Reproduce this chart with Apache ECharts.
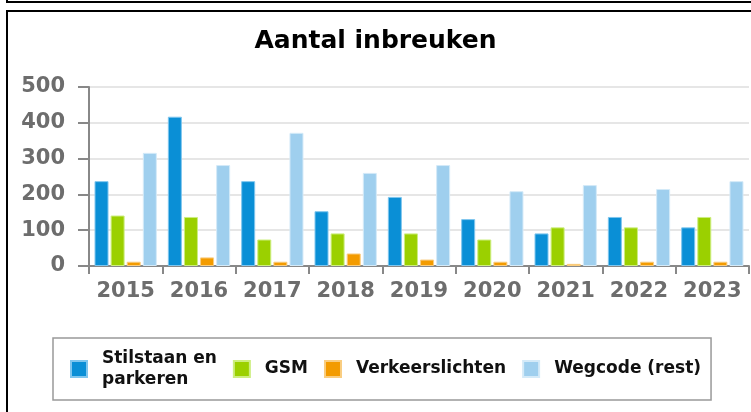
<!DOCTYPE html>
<html>
<head>
<meta charset="utf-8">
<script src="https://cdn.jsdelivr.net/npm/echarts@6/dist/echarts.min.js"></script>
<style>
html,body{margin:0;padding:0;background:#fff;}
#chart{width:751px;height:412px;}
</style>
</head>
<body>
<div id="chart"></div>
<script>
var categories = ['2015', '2016', '2017', '2018', '2019', '2020', '2021', '2022', '2023'];
var stilstaan = [237, 417, 237, 153, 193, 131, 91, 137, 108];
var gsm = [141, 137, 74, 91, 91, 74, 108, 108, 137];
var verkeerslichten = [12, 24, 12, 35, 18, 12, 6, 12, 12];
var wegcode = [316, 282, 372, 260, 282, 209, 226, 215, 237];
var seriesNames = ['Stilstaan en parkeren', 'GSM', 'Verkeerslichten', 'Wegcode (rest)'];
var yTicks = [0, 100, 200, 300, 400, 500];

var FONT = 'DejaVu Sans';
var colors = ['#0a8fd6', '#9bd000', '#f39b00', '#9fcfee'];
var borders = ['#7fc6ee', '#cdee80', '#f9cd80', '#d4eaf8'];

function bar(name, data, i) {
  return {
    name: name, type: 'bar', data: data,
    barWidth: 14, barGap: '15%',
    itemStyle: { color: colors[i], borderColor: borders[i], borderWidth: 1 }
  };
}

var chart = echarts.init(document.getElementById('chart'), null, { renderer: 'canvas' });
chart.setOption({
  animation: false,
  color: colors,
  title: {
    text: 'Aantal inbreuken', left: 'center', top: 24,
    textStyle: { fontFamily: FONT, fontSize: 25, fontWeight: 'bold', color: '#000' }
  },
  graphic: [
    { type: 'rect', shape: { x: 7, y: -20, width: 800, height: 22 }, style: { fill: 'none', stroke: '#000', lineWidth: 2 } },
    { type: 'rect', shape: { x: 7, y: 11, width: 800, height: 450 }, style: { fill: 'none', stroke: '#000', lineWidth: 2 } }
  ],
  grid: { left: 89, right: 2, top: 87, bottom: 146, containLabel: false },
  legend: {
    left: 53, top: 338,
    padding: [10, 10, 10, 17],
    borderColor: '#999', borderWidth: 1.5,
    itemWidth: 16, itemHeight: 16, itemGap: 16,
    icon: 'rect',
    formatter: function (n) { return n === 'Stilstaan en parkeren' ? 'Stilstaan en\nparkeren' : n; },
    textStyle: { fontFamily: FONT, fontSize: 17, fontWeight: 'bold', color: '#111', lineHeight: 21, padding: [0, 0, 0, 10] },
    data: seriesNames
  },
  xAxis: {
    type: 'category', data: categories,
    axisLine: { lineStyle: { color: '#888', width: 2 } },
    axisTick: { show: true, length: 8, alignWithLabel: false, lineStyle: { color: '#888', width: 2 } },
    axisLabel: { interval: 0, margin: 15, fontFamily: FONT, fontSize: 21, fontWeight: 'bold', color: '#6d6d6d' }
  },
  yAxis: {
    type: 'value', min: yTicks[0], max: yTicks[yTicks.length - 1], interval: 100,
    axisLine: { show: true, lineStyle: { color: '#888', width: 2 } },
    axisTick: { show: true, length: 11, lineStyle: { color: '#888', width: 2 } },
    splitLine: { lineStyle: { color: '#e6e6e6', width: 2 } },
    axisLabel: { margin: 24, fontFamily: FONT, fontSize: 21, fontWeight: 'bold', color: '#6d6d6d' }
  },
  series: [
    bar(seriesNames[0], stilstaan, 0),
    bar(seriesNames[1], gsm, 1),
    bar(seriesNames[2], verkeerslichten, 2),
    bar(seriesNames[3], wegcode, 3)
  ]
});
</script>
</body>
</html>
